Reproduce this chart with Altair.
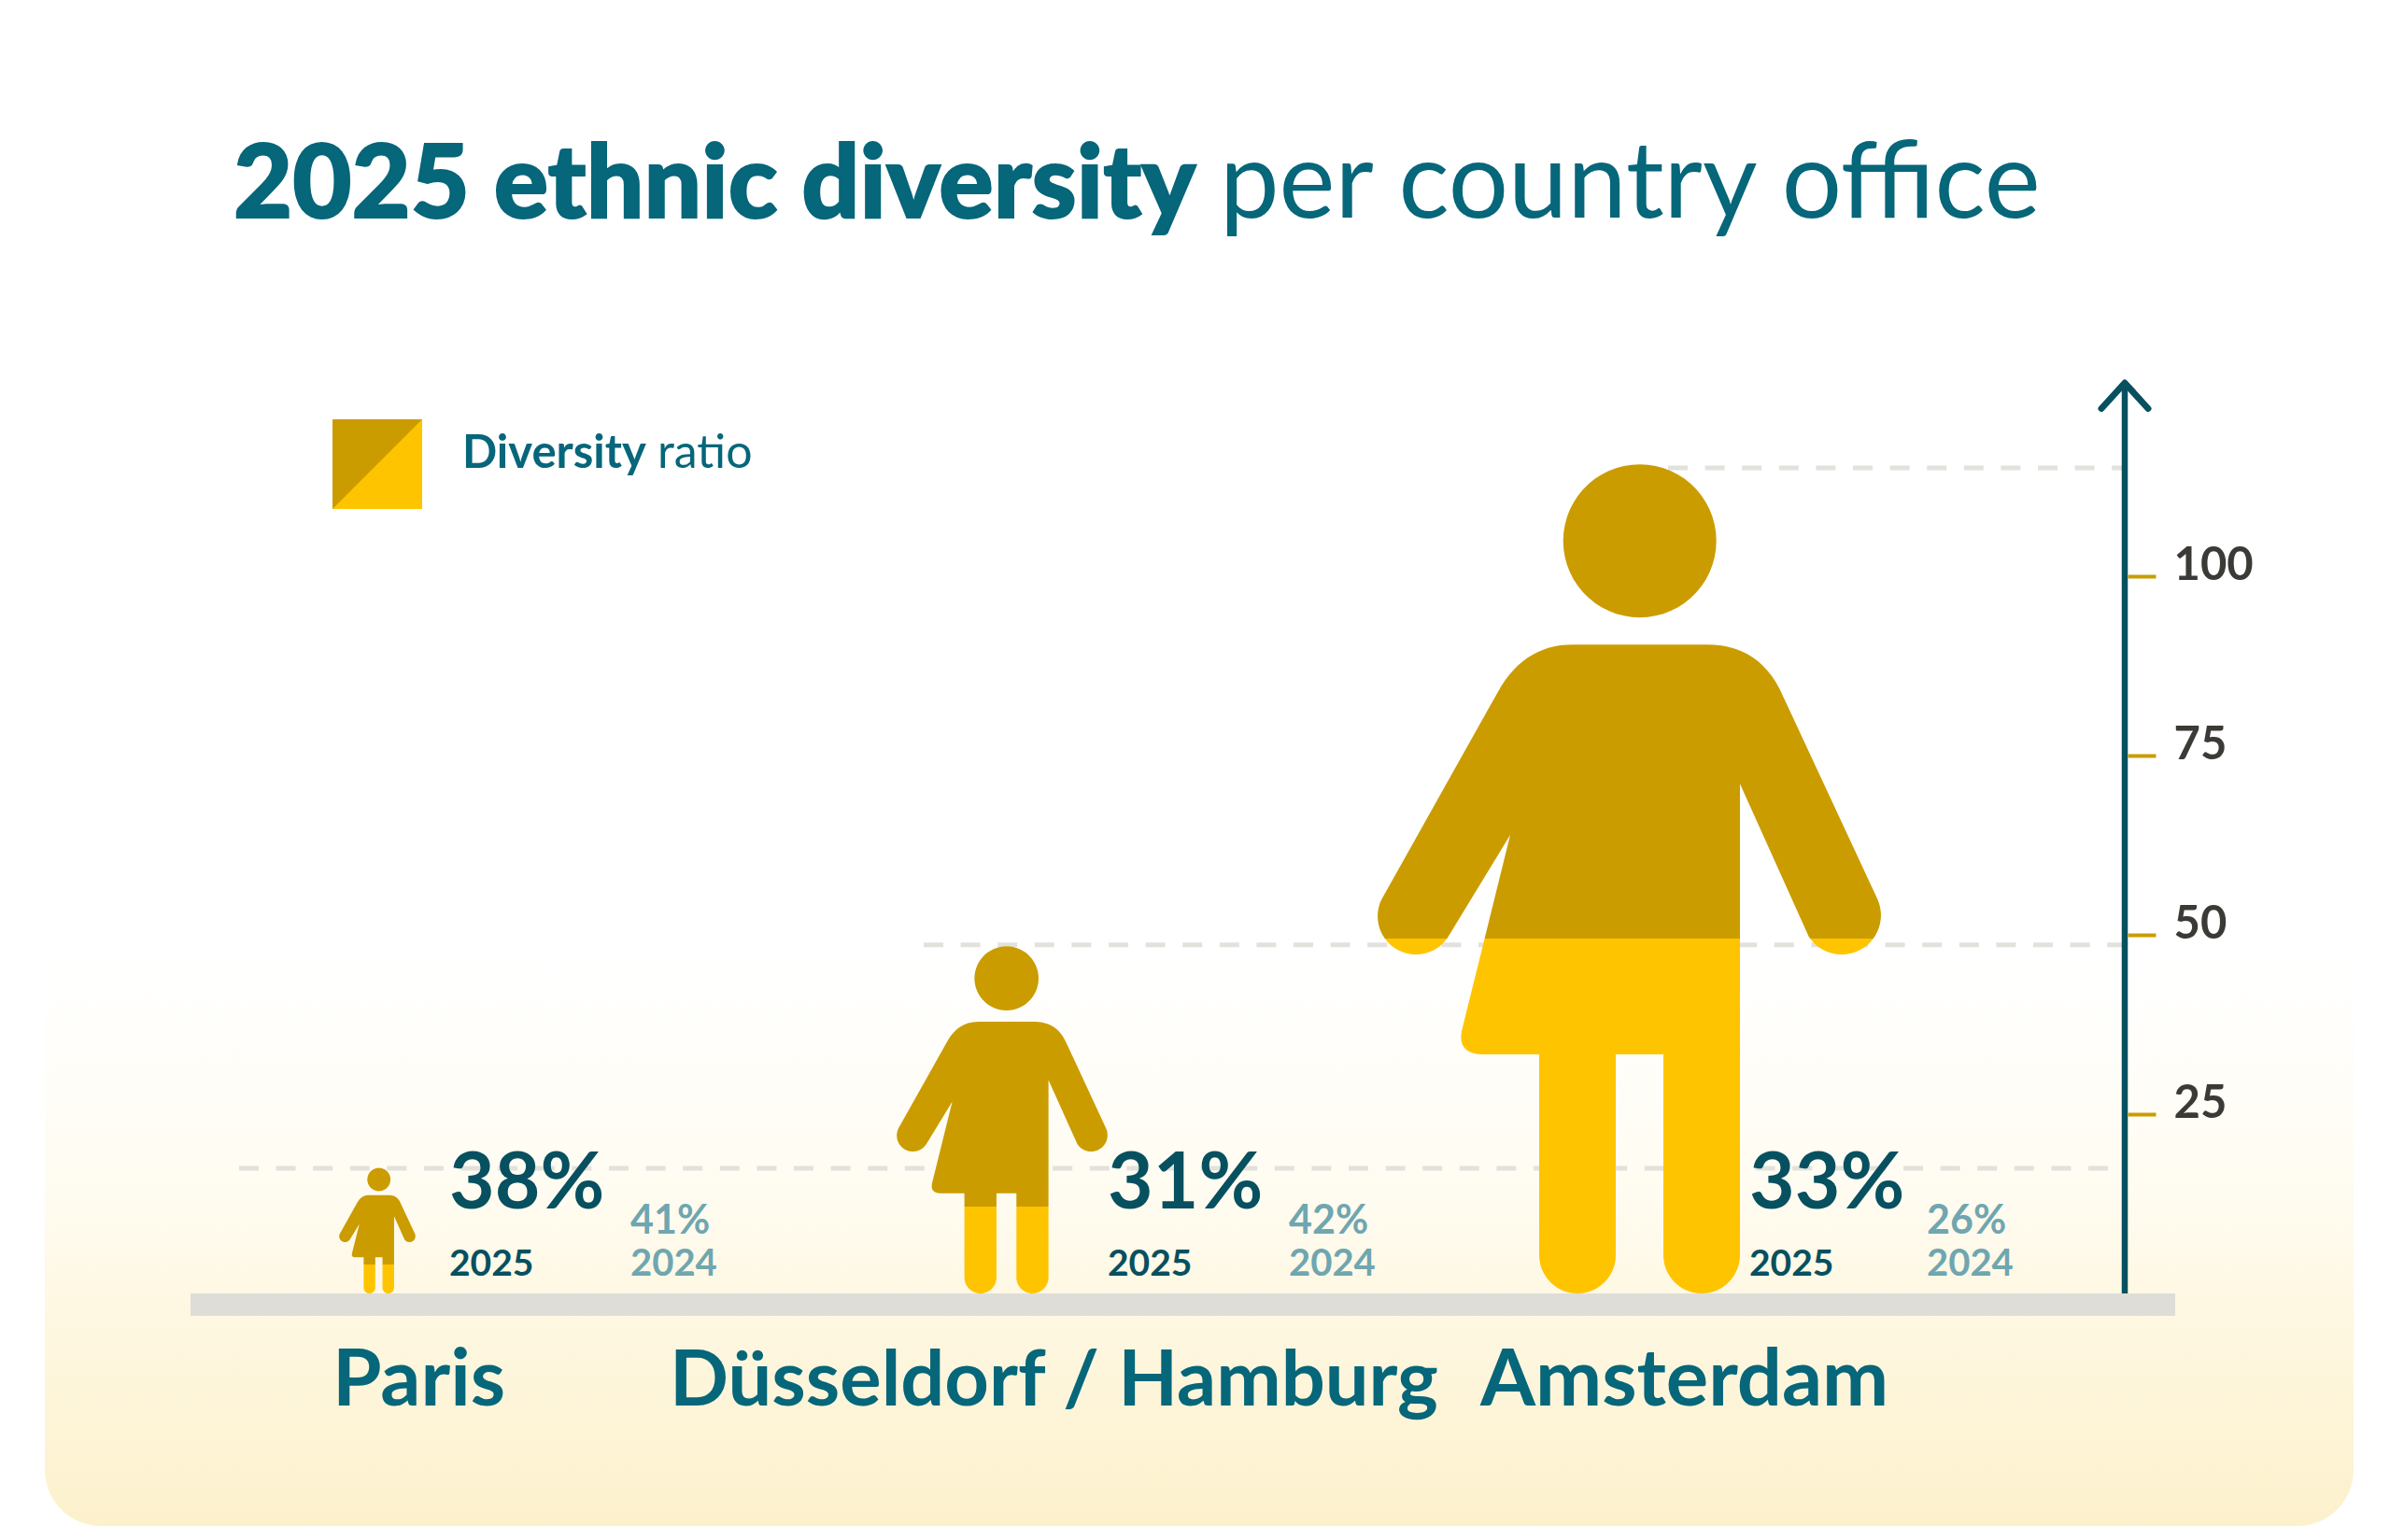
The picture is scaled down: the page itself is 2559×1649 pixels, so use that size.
import math
import altair as alt
import pandas as pd

# ---- values ----
cities = ["Paris", "Düsseldorf / Hamburg", "Amsterdam"]
headcount = [17.5, 48.4, 115.6]
guide_levels = [17.45, 48.6, 115.1]
yellow_share = [0.23, 0.25, 0.428]
ratio_2025 = [38, 31, 33]
ratio_2024 = [41, 42, 26]
tick_values = [25, 50, 75, 100]
title_bold = "2025 ethnic diversity"
title_light = "per country office"
legend_bold = "Diversity"
legend_light = "ratio"

# ---- layout ----
W, H = 2543, 1633
PX_PER_UNIT = 7.68
y0_page = 1385
yscale = alt.Scale(domain=[(y0_page - (H + 8)) / PX_PER_UNIT, (y0_page - 8) / PX_PER_UNIT], nice=False, zero=False)
FONT = "Lato"
TEAL = "#06667A"
DARK = "#07505F"
MUTED = "#6FA6B0"
GOLD = "#CB9C00"
YELLOW = "#FFC400"
GREY = "#DFDDD8"
DASH = "#E3E1DC"

# every layer on the y scale carries the same axis so that they merge into one
AX = alt.Axis(
    orient="right", offset=-273, values=tick_values, title=None, domain=False, grid=False, zindex=1,
    tickColor=GOLD, tickSize=30, tickWidth=4, labelFont=FONT, labelFontSize=49, labelFontWeight=700,
    labelColor="#3C3A36", labelPadding=19, labelOffset=-12,
)


def yv(page_y):
    return (y0_page - page_y) / PX_PER_UNIT


# ---- person glyph, drawn at reference pixel scale then normalised to -1..1 tall ----
def quad(p0, c, p1, n=14):
    out = []
    for i in range(1, n + 1):
        t = i / n
        out.append(((1 - t) ** 2 * p0[0] + 2 * t * (1 - t) * c[0] + t * t * p1[0],
                    (1 - t) ** 2 * p0[1] + 2 * t * (1 - t) * c[1] + t * t * p1[1]))
    return out


def arc(cx, cy, r, a0, a1, n=28):
    return [(cx + r * math.cos(math.radians(a0 + (a1 - a0) * i / n)),
             cy + r * math.sin(math.radians(a0 + (a1 - a0) * i / n))) for i in range(n + 1)]


body = [(1684, 690), (1828, 690)]
body += quad((1828, 690), (1885, 690), (1909, 745))
body += arc(1972, 980, 42, -25, 147)
body += [(1863, 839)]
body += arc(1822, 1344, 41, 0, 180)
body += [(1781, 1129), (1730, 1129)]
body += arc(1689, 1344, 41, 0, 180)
body += [(1648, 1129), (1589, 1129)]
body += quad((1589, 1129), (1558, 1129), (1566, 1100))
body += [(1617, 894)]
body += arc(1516, 981, 41, 30, 207)
body += [(1607, 735)]
body += quad((1607, 735), (1635, 690), (1684, 690))
head = arc(1755.7, 579, 82, 0, 360, 60)


def norm(poly):
    return [((x - 1755.7) / 444.0, (y - 941.0) / 444.0) for x, y in poly]


GLYPH = [norm(head), norm(body)]


def clip(poly, yc, keep_above):
    out = []
    inside = (lambda p: p[1] <= yc) if keep_above else (lambda p: p[1] >= yc)
    for i, p in enumerate(poly):
        q = poly[(i + 1) % len(poly)]
        if inside(p):
            out.append(p)
        if inside(p) != inside(q):
            t = (yc - p[1]) / (q[1] - p[1])
            out.append((p[0] + t * (q[0] - p[0]), yc))
    return out


def path(polys):
    s = ""
    for poly in polys:
        if len(poly) > 2:
            s += "M" + "L".join(f"{x:.4f},{y:.4f}" for x, y in poly) + "Z"
    return s


# ---- helpers ----
one = pd.DataFrame({"a": [0]})


def label(text, x, y, size, weight, color, stroke=0):
    extra = {"stroke": color, "strokeWidth": stroke} if stroke else {}
    return alt.Chart(pd.DataFrame({"t": [text]})).mark_text(
        align="left", baseline="alphabetic", font=FONT, fontSize=size, fontWeight=weight, color=color, **extra
    ).encode(x=alt.value(x - 8), y=alt.value(y - 8), text="t:N")


layers = []

# card gradient
layers.append(
    alt.Chart(one).mark_rect(
        cornerRadius=60,
        fill=alt.Gradient(
            gradient="linear", x1=0, x2=0, y1=0, y2=1,
            stops=[
                alt.GradientStop(offset=0, color="#FFFFFF"),
                alt.GradientStop(offset=0.1, color="#FFFFFF"),
                alt.GradientStop(offset=0.45, color="#FFFCF2"),
                alt.GradientStop(offset=0.63, color="#FEF8E4"),
                alt.GradientStop(offset=1, color="#FDF1CC"),
            ],
        ),
    ).encode(x=alt.value(48 - 8), x2=alt.value(2520 - 8), y=alt.value(960 - 8), y2=alt.value(1634 - 8))
)

# baseline band
layers.append(
    alt.Chart(pd.DataFrame({"a": [0], "b": [yv(1409)]})).mark_rect(color=GREY).encode(
        x=alt.value(204 - 8), x2=alt.value(2329 - 8),
        y=alt.Y("a:Q", scale=yscale, axis=AX), y2="b:Q",
    )
)

# dashed guides from each head to the axis
for h, x_start in zip(guide_levels, [256, 989, 1786]):
    layers.append(
        alt.Chart(pd.DataFrame({"h": [h]})).mark_rule(
            color=DASH, strokeWidth=5, strokeDash=[21, 18.6]
        ).encode(x=alt.value(x_start - 8), x2=alt.value(2272 - 8), y=alt.Y("h:Q", scale=yscale, axis=AX))
    )

# axis line with arrow
layers.append(
    alt.Chart(pd.DataFrame({"a": [0], "b": [yv(410)]})).mark_rule(color=DARK, strokeWidth=6.5).encode(
        x=alt.value(2275 - 8), y=alt.Y("a:Q", scale=yscale, axis=AX), y2="b:Q",
    )
)
layers.append(
    alt.Chart(pd.DataFrame({"b": [yv(410)]})).mark_point(
        shape="M-1,1.1L0,0L1,1.1", filled=False, color=DARK, strokeWidth=7, strokeCap="round", strokeJoin="round",
        opacity=1, size=50 * 50
    ).encode(x=alt.value(2275 - 8), y=alt.Y("b:Q", scale=yscale, axis=AX))
)

# persons
xscale = alt.Scale(domain=cities, range=[405.7 - 8, 1755.7 - 8], padding=0)
person_nudge = [0, -3, 0]
df = pd.DataFrame({"city": cities, "h": headcount, "share": yellow_share})
for i, city in enumerate(cities):
    cut = 1 - 2 * yellow_share[i]
    upper = path([clip(p, cut, True) for p in GLYPH])
    lower = path([clip(p, cut, False) for p in GLYPH])
    for shape, colour in ((lower, YELLOW), (upper, GOLD)):
        layers.append(
            alt.Chart(df.iloc[[i]]).transform_calculate(
                mid="datum.h / 2", s=f"pow(datum.h * {PX_PER_UNIT}, 2)"
            ).mark_point(
                shape=shape, filled=True, color=colour, strokeWidth=0, opacity=1, xOffset=person_nudge[i]
            ).encode(
                x=alt.X("city:N", scale=xscale, axis=None),
                y=alt.Y("mid:Q", scale=yscale, axis=AX),
                size=alt.Size("s:Q", scale=None, legend=None),
            )
        )

# value labels
x25 = [481, 1186, 1873]
x24 = [675, 1380, 2063]
for i in range(3):
    layers.append(label(f"{ratio_2025[i]}%", x25[i], 1294, 84, 700, DARK))
    layers.append(label("2025", x25[i], 1366, 39, 700, DARK))
    layers.append(label(f"{ratio_2024[i]}%", x24[i], 1321, 43, 700, MUTED))
    layers.append(label("2024", x24[i], 1366, 40, 700, MUTED))

# city names
for city, x, size in zip(cities, [356, 717, 1585], [85, 83, 85]):
    layers.append(label(city, x, 1505, size, 700, TEAL))

# title
layers.append(label(title_bold, 250, 233, 109, 900, TEAL, stroke=2))
layers.append(label(title_light, 1306, 233, 113.5, 400, TEAL))

# legend
layers.append(
    alt.Chart(one).mark_point(shape="M-1,-1L1,-1L1,1L-1,1Z", filled=True, color=YELLOW, strokeWidth=0, opacity=1, size=96 * 96)
    .encode(x=alt.value(404 - 8), y=alt.value(497 - 8))
)
layers.append(
    alt.Chart(one).mark_point(shape="M-1,-1L1,-1L-1,1Z", filled=True, color=GOLD, strokeWidth=0, opacity=1, size=96 * 96)
    .encode(x=alt.value(404 - 8), y=alt.value(497 - 8))
)
layers.append(label(legend_bold, 495, 501, 49, 700, TEAL))
layers.append(label(legend_light, 704, 501, 50, 400, TEAL))

chart = (
    alt.layer(*layers)
    .properties(width=W, height=H, padding=0, background="#FFFFFF", autosize=alt.AutoSizeParams(type="none"))
    .configure_view(stroke=None)
)
chart.save("out.html", embed_options={"renderer": "svg", "actions": False})
